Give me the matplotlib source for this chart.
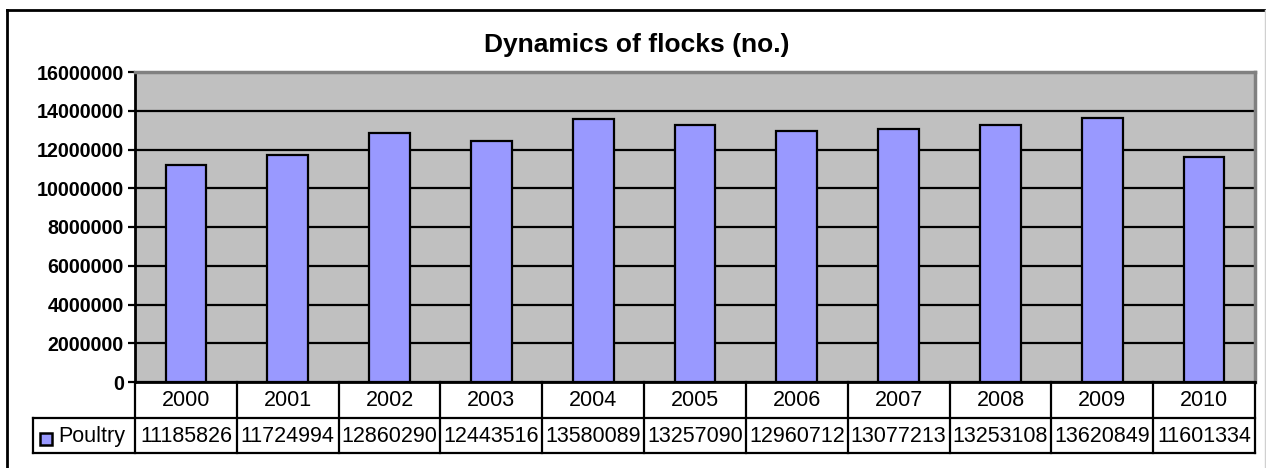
import matplotlib
matplotlib.use("Agg")
import matplotlib.pyplot as plt
from matplotlib.lines import Line2D
from matplotlib.patches import Rectangle

years = ["2000", "2001", "2002", "2003", "2004", "2005", "2006", "2007", "2008", "2009", "2010"]
poultry = [11185826, 11724994, 12860290, 12443516, 13580089, 13257090,
           12960712, 13077213, 13253108, 13620849, 11601334]
series_name = "Poultry"
title = "Dynamics of flocks (no.)"
yticks = [0, 2000000, 4000000, 6000000, 8000000, 10000000, 12000000, 14000000, 16000000]

W, H = 1266, 468
fig = plt.figure(figsize=(W / 100, H / 100), dpi=100)
plt.rcParams['font.family'] = ['Liberation Sans', 'DejaVu Sans']

def fx(px):
    return px / W

def fy(py):
    return 1 - py / H

# plot area in pixels
L, R, T, B = 135, 1255, 72, 382
ax = fig.add_axes([fx(L), fy(B), fx(R - L), (B - T) / H])
ax.set_facecolor('#C0C0C0')
n = len(years)
xs = list(range(n))
ax.bar(xs, poultry, width=0.4, color='#9999FF', edgecolor='black', linewidth=1.6, zorder=3)
ax.set_xlim(-0.5, n - 0.5)
ax.set_ylim(0, 16000000)
ax.set_yticks(yticks)
ax.set_yticklabels([str(v) for v in yticks], fontsize=14.2, fontweight='bold')
ax.yaxis.grid(True, color='black', linewidth=1.6, zorder=1)
ax.set_axisbelow(True)
ax.set_xticks([])
ax.tick_params(axis='y', direction='out', length=5, width=1.6, color='black', pad=3)
for s in ['top', 'right']:
    ax.spines[s].set_color('#808080')
    ax.spines[s].set_linewidth(2.5)
ax.spines['left'].set_color('black')
ax.spines['left'].set_linewidth(2)
ax.spines['bottom'].set_color('black')
ax.spines['bottom'].set_linewidth(2)

# title
fig.text(fx(637), fy(45), title, ha='center', va='center', fontsize=19, fontweight='bold')

# data table
row1_top, row1_bot, row2_bot = B, 418, 453
leg_left = 33
cw = (R - L) / n
lw = 1.6
def hline(x0, x1, y):
    fig.add_artist(Line2D([fx(x0), fx(x1)], [fy(y), fy(y)], color='black', linewidth=lw))
def vline(x, y0, y1):
    fig.add_artist(Line2D([fx(x), fx(x)], [fy(y0), fy(y1)], color='black', linewidth=lw))

hline(leg_left, R, row1_bot)
hline(leg_left, R, row2_bot)
vline(leg_left, row1_bot, row2_bot)
for i in range(n + 1):
    vline(L + i * cw, row1_top, row2_bot)
for i in range(n):
    cx = L + (i + 0.5) * cw
    fig.text(fx(cx), fy((row1_top + row1_bot) / 2 + 1), years[i], ha='center', va='center', fontsize=15.5)
    fig.text(fx(cx), fy((row1_bot + row2_bot) / 2 + 1), str(poultry[i]), ha='center', va='center', fontsize=15.5)

# legend key
fig.add_artist(Rectangle((fx(40), fy(445)), fx(12), 12 / H, facecolor='#9999FF',
                         edgecolor='black', linewidth=1.8))
fig.text(fx(58), fy((row1_bot + row2_bot) / 2 + 1), series_name, ha='left', va='center', fontsize=15.5)

# outer frame
fig.add_artist(Line2D([fx(7), fx(1265)], [fy(10), fy(10)], color='black', linewidth=2))
fig.add_artist(Line2D([fx(7), fx(7)], [fy(10), fy(470)], color='black', linewidth=2))
fig.add_artist(Line2D([fx(1265), fx(1265)], [fy(10), fy(470)], color='#D0D0D0', linewidth=1))

fig.savefig('out.png', dpi=100)
